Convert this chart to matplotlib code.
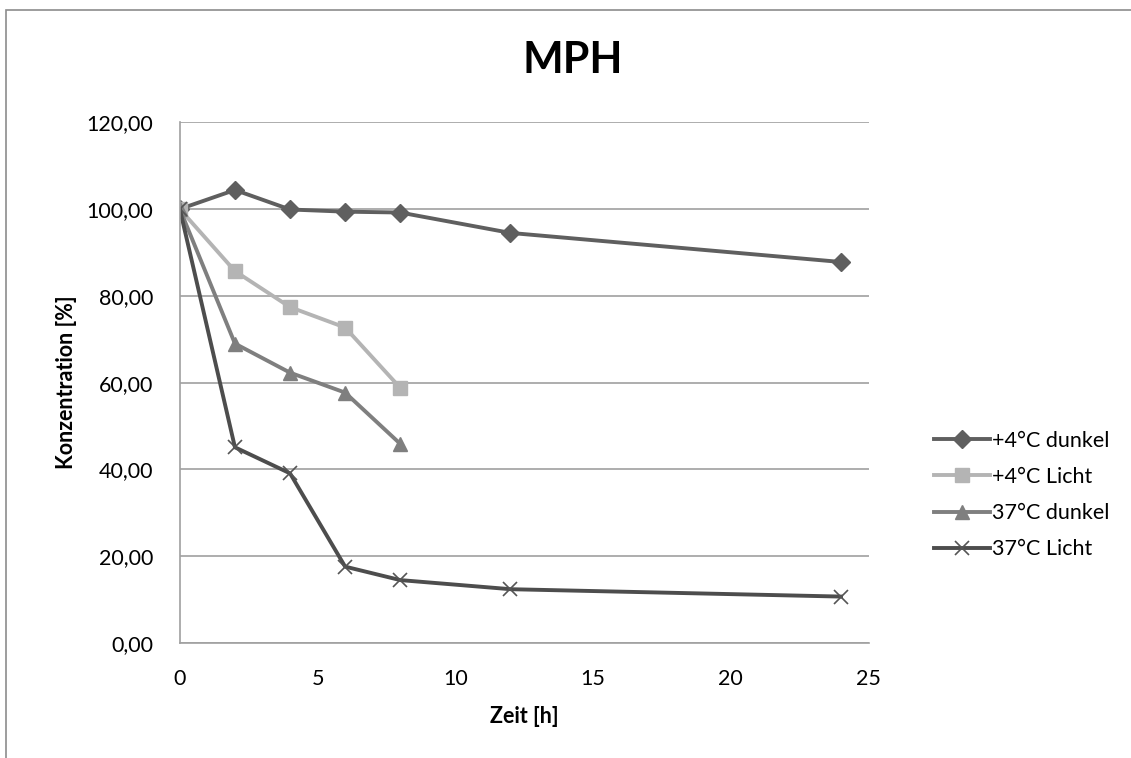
import matplotlib.pyplot as plt
from matplotlib.patches import Rectangle

# ---------- Daten ----------
zeit_lang = [0, 2, 4, 6, 8, 12, 24]
zeit_kurz = [0, 2, 4, 6, 8]

dunkel_4 = [100.0, 104.4, 99.9, 99.4, 99.2, 94.5, 87.8]
licht_4 = [100.0, 85.7, 77.4, 72.7, 58.8]
dunkel_37 = [100.0, 69.0, 62.3, 57.7, 45.9]
licht_37 = [100.0, 45.1, 39.1, 17.6, 14.5, 12.4, 10.7]

yticks = [0, 20, 40, 60, 80, 100, 120]
xticks = [0, 5, 10, 15, 20, 25]

plt.rcParams['font.family'] = ['Lato', 'DejaVu Sans']

fig = plt.figure(figsize=(11.31, 7.58), dpi=100)
ax = fig.add_axes([0.159, 0.1517, 0.609, 0.687])

# Rahmen um das Diagramm
fig.patches.append(Rectangle((6 / 1131, -0.05), 1.2, 1 - 10 / 758 + 0.05,
                             transform=fig.transFigure, fill=False,
                             edgecolor='#8c8c8c', linewidth=1.2))

ax.plot(zeit_lang, dunkel_4, color='#5f5f5f', lw=2.8, marker='D', ms=9,
        label='+4°C dunkel')
ax.plot(zeit_kurz, licht_4, color='#b4b4b4', lw=2.8, marker='s', ms=10,
        label='+4°C Licht')
ax.plot(zeit_kurz, dunkel_37, color='#7f7f7f', lw=2.8, marker='^', ms=10,
        label='37°C dunkel')
ax.plot(zeit_lang, licht_37, color='#4d4d4d', lw=2.8, marker='x', ms=10,
        mew=1.2, mec='#555555', label='37°C Licht')

ax.set_xlim(0, 25)
ax.set_ylim(0, 120)
ax.set_xticks(xticks)
ax.set_yticks(yticks)
ax.set_yticklabels([f'{v:.2f}'.replace('.', ',') for v in yticks])
ax.tick_params(length=0, labelsize=15.5, pad=19)
ax.grid(axis='y', color='#a0a0a0', lw=1.2)
ax.set_axisbelow(True)
for s in ['top', 'right']:
    ax.spines[s].set_visible(False)
for s in ['left', 'bottom']:
    ax.spines[s].set_color('#a0a0a0')
    ax.spines[s].set_linewidth(1.2)

ax.set_xlabel('Zeit [h]', fontsize=15.5, fontweight='bold', labelpad=12)
ax.set_ylabel('Konzentration [%]', fontsize=15.5, fontweight='bold', labelpad=7)
fig.text(573 / 1131, 1 - 60 / 758, 'MPH', ha='center', va='center',
         fontsize=31, fontweight='bold')

ax.legend(loc='center left', bbox_to_anchor=(915 / 1131, 1 - 495 / 758),
          bbox_transform=fig.transFigure, frameon=False, fontsize=15.5,
          handlelength=2.6, handletextpad=0.1, labelspacing=0.75)

plt.savefig('out.png', dpi=100)
plt.close()
